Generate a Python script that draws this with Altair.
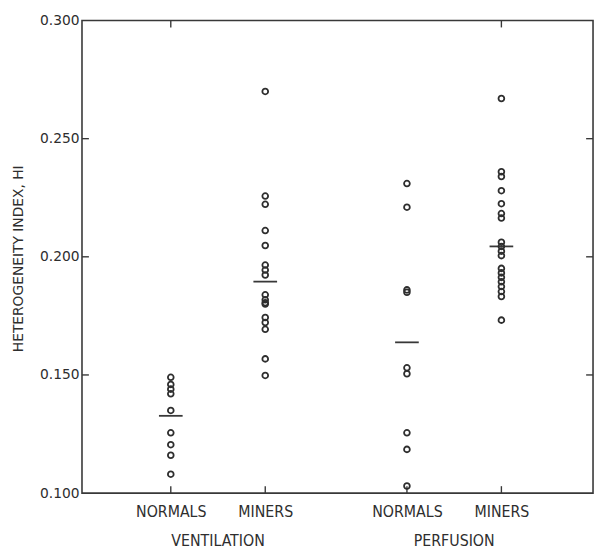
import altair as alt
import pandas as pd

# ---- data ----
categories = ["NORMALS", "MINERS", "NORMALS", "MINERS"]
studies = ["VENTILATION", "PERFUSION"]
group_study = ["VENTILATION", "VENTILATION", "PERFUSION", "PERFUSION"]

vent_normals = [0.149, 0.146, 0.144, 0.142, 0.135, 0.1255, 0.1205, 0.116, 0.108]
vent_miners = [0.270, 0.2257, 0.2222, 0.2111, 0.2048, 0.1965, 0.1944, 0.1923,
               0.1839, 0.1818, 0.1806, 0.1800, 0.1743, 0.1722, 0.1693, 0.1568, 0.1498]
perf_normals = [0.231, 0.221, 0.186, 0.185, 0.153, 0.1505, 0.1255, 0.1185, 0.103]
perf_miners = [0.267, 0.236, 0.234, 0.228, 0.2225, 0.2183, 0.2164, 0.2062, 0.2044,
               0.2024, 0.2005, 0.1951, 0.1932, 0.1913, 0.1894, 0.1874, 0.1853,
               0.1832, 0.1732]
group_means = [0.1327, 0.1895, 0.1638, 0.2044]

y_tick_values = [0.100, 0.150, 0.200, 0.250, 0.300]
inner_y_ticks = [0.150, 0.200, 0.250]

# slot of each group along the x axis (layout)
slots = [1.0, 2.0, 3.5, 4.5]
top_tick_slots = [slots[0], slots[3]]

series = [vent_normals, vent_miners, perf_normals, perf_miners]
pts = pd.DataFrame(
    [{"pos": slots[i], "value": v, "group": categories[i], "study": group_study[i]}
     for i, s in enumerate(series) for v in s]
)
means = pd.DataFrame({"pos": slots, "mean": group_means})
study_df = pd.DataFrame({
    "study": studies,
    "pos": [(slots[0] + slots[1]) / 2, (slots[2] + slots[3]) / 2],
})
ytick_df = pd.DataFrame({"v": inner_y_ticks})
xtick_df = pd.DataFrame({"pos": slots})
toptick_df = pd.DataFrame({"pos": top_tick_slots})

W, H = 518, 479
INK = "#2e2e2e"
LINE = "#383838"

xscale = alt.Scale(domain=[0.06, 5.47], nice=False, zero=False)
yscale = alt.Scale(domain=[0.1, 0.3], nice=False, zero=False)

label_expr = ("datum.value == 1 ? 'NORMALS' : datum.value == 2 ? 'MINERS' : "
              "datum.value == 3.5 ? 'NORMALS' : 'MINERS'")

x_enc = alt.X("pos:Q", scale=xscale, axis=alt.Axis(
    values=slots, labelExpr=label_expr, title=None, ticks=False, domain=False,
    grid=False, labelFont="DejaVu Sans Condensed", labelFontSize=16,
    labelColor=INK, labelPadding=11))
y_enc = alt.Y("value:Q", scale=yscale, axis=alt.Axis(
    values=y_tick_values, format=".3f", title="HETEROGENEITY INDEX, HI",
    ticks=False, domain=False, grid=False,
    labelFont="DejaVu Sans", labelFontSize=14, labelColor=INK, labelPadding=3,
    titleFont="DejaVu Sans", titleFontSize=14, titleFontWeight="normal",
    titleColor=INK, titleAngle=270, titleX=-64, titleY=241,
    titleAlign="center", titleBaseline="middle"))

points = alt.Chart(pts).mark_point(
    shape="circle", filled=False, size=34, strokeWidth=1.8, color=INK, opacity=1
).encode(x=x_enc, y=y_enc)

mean_ticks = alt.Chart(means).mark_tick(
    orient="horizontal", size=24, thickness=1.8, color=LINE, opacity=1
).encode(x=alt.X("pos:Q", scale=xscale), y=alt.Y("mean:Q", scale=yscale))

left_ticks = alt.Chart(ytick_df).mark_rule(color=LINE, strokeWidth=1.4).encode(
    y=alt.Y("v:Q", scale=yscale), x=alt.value(0), x2=alt.value(7))
right_ticks = alt.Chart(ytick_df).mark_rule(color=LINE, strokeWidth=1.4).encode(
    y=alt.Y("v:Q", scale=yscale), x=alt.value(W - 7), x2=alt.value(W))
bottom_ticks = alt.Chart(xtick_df).mark_rule(color=LINE, strokeWidth=1.4).encode(
    x=alt.X("pos:Q", scale=xscale), y=alt.value(H), y2=alt.value(H - 7))
top_ticks = alt.Chart(toptick_df).mark_rule(color=LINE, strokeWidth=1.4).encode(
    x=alt.X("pos:Q", scale=xscale), y=alt.value(0), y2=alt.value(7))

study_text = alt.Chart(study_df).mark_text(
    font="DejaVu Sans Condensed", fontSize=16, color=INK, baseline="middle",
    align="center"
).encode(x=alt.X("pos:Q", scale=xscale), y=alt.value(H + 49), text="study:N")

chart = alt.layer(
    left_ticks, right_ticks, bottom_ticks, top_ticks, mean_ticks, points, study_text
).properties(
    width=W, height=H,
    autosize=alt.AutoSizeParams(type="none"),
    padding={"left": 75, "top": 9, "right": 2, "bottom": 55},
    background="white",
).configure_view(stroke=LINE, strokeWidth=1.6)

chart.save("out.html", embed_options={"renderer": "svg", "actions": False})
